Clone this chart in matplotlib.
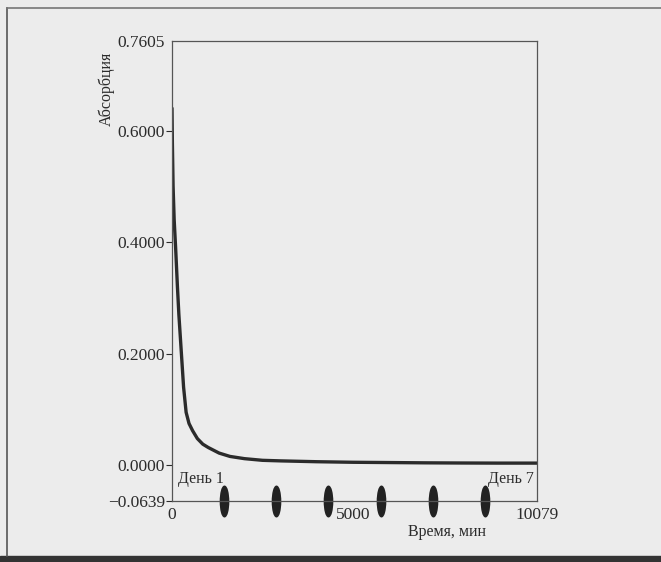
import matplotlib
matplotlib.use("Agg")
import matplotlib.pyplot as plt
from matplotlib.markers import MarkerStyle
from matplotlib.transforms import Affine2D
from matplotlib.lines import Line2D
from matplotlib.patches import Rectangle

# absorbance decay
time_min = [0, 10, 30, 60, 100, 150, 190, 250, 320, 390, 470, 570, 700, 850,
            1000, 1120, 1300, 1600, 2000, 2500, 3000, 4000, 5000, 6000, 7000,
            8000, 9000, 10079]
absorb = [0.64, 0.58, 0.50, 0.44, 0.39, 0.32, 0.27, 0.21, 0.14, 0.095, 0.075,
          0.062, 0.048, 0.038, 0.032, 0.028, 0.022, 0.016, 0.012, 0.009, 0.008,
          0.0065, 0.0055, 0.005, 0.0045, 0.0042, 0.004, 0.004]
day_marks = [1440, 2880, 4320, 5760, 7200, 8640]
yticks = [-0.0639, 0.0, 0.2, 0.4, 0.6, 0.7605]
xticks = [0, 5000, 10079]

plt.rcParams['font.family'] = ['Liberation Serif', 'DejaVu Serif']
bg = '#ececec'
ink = '#2b2b2b'

fig = plt.figure(figsize=(6.61, 5.62), dpi=100, facecolor=bg)

# scanned page frame
fig.add_artist(Line2D([7/661, 7/661], [1-556/562, 1-8/562], color='#555555', lw=1.2))
fig.add_artist(Line2D([7/661, 1], [1-8/562, 1-8/562], color='#777777', lw=1.2))
fig.add_artist(Rectangle((0, 0), 1, 6/562, color='#333333', transform=fig.transFigure))

ax = fig.add_axes([172/661, 1-501/562, 365/661, 460/562])
ax.set_facecolor(bg)
ax.plot(time_min, absorb, color=ink, lw=2.4, solid_capstyle='round')

blob = MarkerStyle('o', transform=Affine2D().scale(0.27, 1.0))
ax.plot(day_marks, [yticks[0]] * len(day_marks), ls='none', marker=blob,
        markersize=22, color='#222222', clip_on=False)

ax.set_xlim(0, 10079)
ax.set_ylim(-0.0639, 0.7605)
ax.set_yticks(yticks)
ax.set_yticklabels(['\u22120.0639', '0.0000', '0.2000', '0.4000', '0.6000', '0.7605'])
ax.set_xticks(xticks)
ax.set_xticklabels(['0', '5000', '10079'])
ax.tick_params(axis='y', direction='out', length=4, width=0.8, pad=1,
               labelsize=12.5, colors=ink)
ax.tick_params(axis='x', direction='out', length=0, pad=4,
               labelsize=12.5, colors=ink)
ax.yaxis.get_major_ticks()[-1].tick1line.set_visible(False)
for s in ax.spines.values():
    s.set_color('#555555')
    s.set_linewidth(0.9)

ax.text(170, -0.011, 'День 1', fontsize=11.5, color=ink, va='top', ha='left')
ax.text(10000, -0.011, 'День 7', fontsize=11.5, color=ink, va='top', ha='right')

fig.text(447/661, 1-532/562, 'Время, мин', fontsize=11.5, color=ink,
         ha='center', va='center')
fig.text(107/661, 1-89/562, 'Абсорбция', fontsize=11.5, color=ink,
         ha='center', va='center', rotation=90)

fig.savefig('out.png', dpi=100, facecolor=bg)
